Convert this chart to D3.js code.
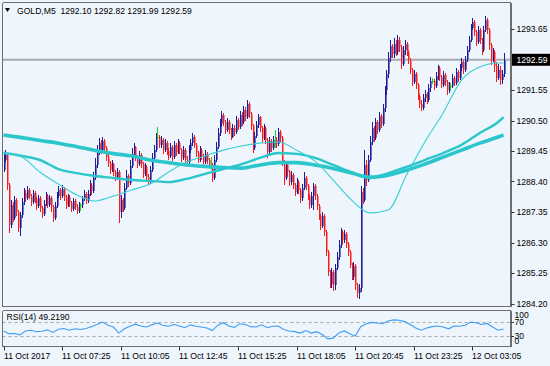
<!DOCTYPE html>
<html><head><meta charset="utf-8">
<script src="https://cdnjs.cloudflare.com/ajax/libs/d3/7.8.5/d3.min.js"></script>
<style>
html,body{margin:0;padding:0;background:#eef5fc;}
svg{display:block;font-family:"Liberation Sans",Arial,sans-serif;}
</style></head><body>
<svg id="c" width="550" height="366"></svg>
<script>
// ---------------- DATA ----------------
const symbol = "GOLD,M5";
const lastOHLC = ["1292.10", "1292.82", "1291.99", "1292.59"];
const firstOpen = 1288.79;
const closes = [
1289.14,1289.31,1288.28,1286.90,1287.59,1287.14,1287.76,1287.35,1286.80,1287.25,
1287.69,1288.00,1287.83,1288.11,1287.90,1287.69,1288.00,1287.80,1287.55,1287.83,
1287.49,1287.28,1287.62,1287.90,1287.59,1287.83,1287.52,1287.14,1287.55,1287.90,
1288.11,1287.90,1288.14,1287.87,1287.59,1287.87,1287.66,1287.45,1287.73,1287.52,
1287.38,1287.59,1287.59,1287.80,1287.97,1287.73,1287.97,1288.28,1288.07,1288.52,
1288.97,1289.41,1289.73,1289.48,1289.79,1289.55,1289.24,1289.04,1288.79,1289.00,
1288.72,1288.52,1288.72,1287.35,1287.76,1287.49,1288.18,1288.59,1288.35,1288.93,
1289.35,1289.59,1289.24,1289.00,1289.31,1289.00,1288.66,1288.90,1288.55,1288.38,
1288.79,1289.21,1289.48,1289.93,1289.93,1289.66,1289.83,1289.48,1289.73,1289.45,
1289.28,1289.59,1289.24,1289.66,1289.41,1289.73,1289.48,1289.21,1289.48,1289.14,
1289.07,1289.48,1289.73,1289.93,1289.66,1289.38,1289.14,1289.48,1289.28,1289.07,
1289.35,1289.14,1288.97,1288.97,1288.52,1289.14,1289.59,1290.07,1290.38,1290.69,
1290.45,1290.17,1290.45,1290.17,1289.93,1290.24,1290.10,1290.52,1290.27,1290.69,
1290.45,1290.86,1290.62,1291.07,1290.72,1290.31,1289.55,1289.97,1290.34,1290.62,
1290.24,1289.90,1290.24,1289.83,1289.41,1289.79,1289.55,1289.83,1289.83,1289.69,
1290.10,1289.90,1289.07,1288.52,1288.97,1288.72,1288.38,1288.62,1288.28,1288.04,
1288.38,1288.11,1287.83,1288.18,1288.52,1288.24,1287.90,1287.59,1287.90,1288.24,
1287.90,1287.55,1287.21,1286.87,1287.21,1286.66,1285.97,1285.28,1284.87,1285.28,
1284.84,1285.42,1285.80,1286.21,1286.66,1286.39,1286.59,1286.25,1285.97,1285.52,
1285.11,1285.49,1284.84,1284.56,1284.73,1288.04,1287.76,1288.97,1288.45,1289.14,
1289.76,1290.24,1289.90,1290.45,1290.17,1290.65,1290.38,1290.93,1291.55,1292.10,
1292.65,1293.06,1292.79,1293.13,1292.86,1293.27,1293.03,1292.44,1292.93,1293.13,
1292.86,1292.58,1292.24,1291.82,1292.10,1291.72,1291.34,1291.07,1290.93,1291.27,
1291.41,1291.21,1291.62,1291.86,1291.86,1291.69,1292.03,1292.31,1292.00,1291.72,
1292.07,1291.82,1291.55,1291.69,1291.69,1291.96,1291.79,1292.17,1291.96,1292.31,
1292.51,1292.24,1292.58,1292.93,1293.27,1293.68,1293.89,1293.54,1293.20,1293.61,
1293.27,1292.93,1293.61,1293.96,1293.61,1293.10,1292.58,1292.86,1292.38,1291.96,
1292.24,1291.89,1292.10,1292.59];
const highs = [
1289.41,1289.48,1289.38,1288.35,1287.76,1287.69,1287.90,1287.83,1287.42,1287.35,
1287.83,1288.18,1288.11,1288.24,1288.18,1287.97,1288.11,1288.07,1287.87,1287.94,
1287.90,1287.55,1287.76,1288.04,1287.97,1287.94,1287.90,1287.59,1287.69,1288.04,
1288.24,1288.18,1288.28,1288.21,1287.94,1287.97,1287.94,1287.73,1287.83,1287.80,
1287.62,1287.69,1287.66,1287.90,1288.11,1288.04,1288.11,1288.45,1288.35,1288.72,
1289.21,1289.66,1289.90,1289.83,1289.93,1289.86,1289.62,1289.35,1289.10,1289.14,
1289.04,1288.79,1288.86,1288.79,1287.94,1287.83,1288.35,1288.79,1288.66,1289.14,
1289.55,1289.73,1289.62,1289.31,1289.45,1289.38,1289.07,1289.04,1288.97,1288.66,
1288.93,1289.38,1289.66,1290.07,1290.27,1290.00,1289.97,1289.90,1289.86,1289.79,
1289.55,1289.73,1289.66,1289.79,1289.73,1289.86,1289.79,1289.55,1289.62,1289.55,
1289.28,1289.66,1289.86,1290.07,1290.00,1289.73,1289.45,1289.62,1289.55,1289.35,
1289.48,1289.41,1289.21,1289.24,1289.04,1289.31,1289.76,1290.24,1290.55,1290.83,
1290.76,1290.52,1290.59,1290.52,1290.24,1290.38,1290.34,1290.65,1290.59,1290.83,
1290.79,1291.00,1290.96,1291.21,1291.14,1290.79,1290.38,1290.10,1290.48,1290.72,
1290.65,1290.31,1290.38,1290.31,1289.90,1289.93,1289.86,1289.97,1290.17,1289.93,
1290.24,1290.17,1289.97,1289.14,1289.10,1289.04,1288.79,1288.76,1288.69,1288.35,
1288.52,1288.45,1288.18,1288.31,1288.72,1288.59,1288.31,1287.97,1288.04,1288.35,
1288.31,1287.97,1287.62,1287.28,1287.35,1287.28,1286.73,1286.04,1285.35,1285.42,
1285.35,1285.56,1285.97,1286.39,1286.80,1286.73,1286.73,1286.66,1286.32,1286.04,
1285.59,1285.63,1285.56,1284.91,1284.87,1288.24,1288.18,1289.48,1289.14,1289.31,
1289.97,1290.45,1290.31,1290.59,1290.52,1290.79,1290.72,1291.07,1291.69,1292.24,
1292.86,1293.27,1293.13,1293.34,1293.27,1293.44,1293.37,1293.10,1293.06,1293.27,
1293.20,1292.93,1292.65,1292.31,1292.24,1292.17,1291.79,1291.41,1291.21,1291.41,
1291.55,1291.48,1291.76,1292.00,1291.96,1291.93,1292.17,1292.41,1292.38,1292.07,
1292.20,1292.13,1291.89,1291.82,1291.79,1292.10,1292.03,1292.31,1292.24,1292.44,
1292.65,1292.58,1292.72,1293.06,1293.41,1293.82,1294.03,1293.96,1293.61,1293.75,
1293.68,1293.34,1293.75,1294.10,1294.03,1293.68,1293.17,1292.99,1292.93,1292.51,
1292.44,1292.38,1292.24,1292.82];
const lows = [
1288.72,1289.07,1288.11,1286.63,1286.80,1287.00,1287.07,1287.21,1286.66,1286.52,
1287.14,1287.59,1287.69,1287.76,1287.80,1287.55,1287.62,1287.66,1287.42,1287.49,
1287.35,1287.14,1287.21,1287.55,1287.49,1287.52,1287.35,1287.00,1287.07,1287.49,
1287.83,1287.76,1287.83,1287.73,1287.45,1287.52,1287.52,1287.35,1287.38,1287.42,
1287.28,1287.31,1287.38,1287.49,1287.73,1287.62,1287.66,1287.90,1287.94,1288.00,
1288.45,1288.86,1289.31,1289.35,1289.41,1289.41,1289.10,1288.90,1288.66,1288.72,
1288.59,1288.42,1288.45,1286.97,1287.14,1287.35,1287.42,1288.11,1288.21,1288.28,
1288.86,1289.24,1289.10,1288.86,1288.93,1288.86,1288.52,1288.59,1288.45,1288.28,
1288.31,1288.72,1289.14,1289.41,1289.86,1289.55,1289.55,1289.35,1289.41,1289.31,
1289.14,1289.21,1289.10,1289.17,1289.28,1289.35,1289.35,1289.07,1289.14,1289.04,
1288.97,1289.00,1289.38,1289.62,1289.55,1289.24,1289.04,1289.07,1289.14,1288.93,
1289.00,1289.00,1288.86,1288.79,1288.38,1288.45,1289.07,1289.52,1289.97,1290.27,
1290.31,1290.03,1290.10,1290.03,1289.83,1289.90,1289.97,1290.03,1290.17,1290.21,
1290.31,1290.38,1290.48,1290.55,1290.59,1290.17,1289.38,1289.48,1289.90,1290.24,
1290.10,1289.76,1289.83,1289.69,1289.21,1289.31,1289.41,1289.48,1289.55,1289.55,
1289.62,1289.76,1288.93,1288.28,1288.45,1288.59,1288.24,1288.28,1288.14,1287.90,
1287.97,1287.97,1287.66,1287.73,1288.11,1288.11,1287.76,1287.45,1287.49,1287.42,
1287.76,1287.42,1287.07,1286.73,1286.80,1286.52,1285.83,1285.14,1284.73,1284.73,
1284.63,1284.66,1285.35,1285.70,1286.11,1286.25,1286.28,1286.11,1285.83,1285.42,
1285.01,1285.01,1284.66,1284.39,1284.35,1284.59,1287.62,1287.69,1288.24,1288.38,
1289.07,1289.66,1289.76,1289.83,1290.03,1290.10,1290.24,1290.31,1290.79,1291.38,
1291.96,1292.51,1292.65,1292.65,1292.72,1292.75,1292.86,1292.27,1292.38,1292.75,
1292.72,1292.44,1292.10,1291.69,1291.76,1291.58,1291.21,1290.93,1290.83,1290.86,
1291.14,1291.07,1291.14,1291.48,1291.76,1291.55,1291.62,1291.89,1291.86,1291.62,
1291.65,1291.69,1291.38,1291.45,1291.51,1291.62,1291.69,1291.72,1291.82,1291.89,
1292.20,1292.10,1292.17,1292.51,1292.86,1293.20,1293.61,1293.41,1293.06,1293.13,
1293.13,1292.75,1292.86,1293.54,1293.48,1292.93,1292.41,1292.51,1292.17,1291.82,
1291.89,1291.72,1291.76,1291.99];

// moving averages read at sample bars
const maIdx  = [0,10,20,30,40,50,60,70,80,90,100,110,120,130,140,150,160,170,180,190,200,210,220,230,240,250,260,270,273];
const maSlow = [1290.00,1289.91,1289.81,1289.72,1289.60,1289.47,1289.36,1289.28,1289.14,1289.05,1288.97,1288.92,1288.88,1288.86,1288.97,1289.05,1289.05,1288.97,1288.85,1288.69,1288.55,1288.62,1288.79,1289.00,1289.24,1289.48,1289.72,1289.93,1290.00];
const maMid  = [1289.38,1289.28,1289.14,1288.83,1288.69,1288.59,1288.52,1288.45,1288.42,1288.38,1288.49,1288.66,1288.83,1289.00,1289.21,1289.38,1289.35,1289.21,1288.97,1288.72,1288.52,1288.69,1288.90,1289.14,1289.38,1289.66,1290.07,1290.45,1290.62];
const maFast = [1289.38,1289.24,1288.72,1288.31,1287.94,1287.73,1287.90,1288.11,1288.31,1288.72,1289.07,1289.28,1289.48,1289.62,1289.72,1289.76,1289.48,1289.10,1288.45,1287.76,1287.32,1287.42,1288.62,1289.76,1290.76,1291.89,1292.34,1292.48,1292.48];

// RSI(14) read every 3 bars
const rsiIdx = d3.range(0, 274, 3);
const rsiVal = [44,36,37,33,44,46,42,43,47,40,49,51,46,50,48,51,56,62,69,60,55,38,50,57,63,58,55,61,66,60,
57,62,58,53,61,57,55,52,45,60,67,58,54,64,62,56,55,61,53,57,58,48,44,42,38,45,38,42,34,22,
24,38,44,36,30,56,64,68,66,64,72,75,74,70,62,52,46,52,56,58,55,50,58,57,60,69,67,62,65,55,
46,49.219];
const rsiLabel = "RSI(14) 49.2190";
const rsiLevels = [70, 30];
const rsiTickLabels = ["100","70","30","0"];

const priceTicks = [1293.65,1291.55,1290.50,1289.45,1288.40,1287.35,1286.30,1285.25,1284.20];
const timeTickIdx = [0,32,64,96,128,160,192,224,256];
const timeTickLabels = ["11 Oct 2017","11 Oct 07:25","11 Oct 10:05","11 Oct 12:45","11 Oct 15:25","11 Oct 18:05","11 Oct 20:45","11 Oct 23:25","12 Oct 03:05"];

// ---------------- DRAW ----------------
const svg = d3.select('#c');
const bg = "#eef5fc", frame = "#6e6e6e";
const L = 2.5, R = 511, T = 2.5, B = 306.5, rT = 310.5, rB = 346.5;

const x = d3.scaleLinear().domain([0, 273]).range([3.5, 503.6]);
const y = d3.scaleLinear().domain([1284.20, 1293.65]).range([303.5, 29]);
const yr = d3.scaleLinear().domain([0, 100]).range([346.7, 310.9]);

svg.append('rect').attr('width', 550).attr('height', 366).attr('fill', bg);

const defs = svg.append('defs');
defs.append('clipPath').attr('id', 'mainclip').append('rect')
  .attr('x', L + 0.5).attr('y', T + 0.5).attr('width', R - L - 1.5).attr('height', B - T - 1);
defs.append('clipPath').attr('id', 'rsiclip').append('rect')
  .attr('x', L + 0.5).attr('y', rT + 0.5).attr('width', R - L - 1.5).attr('height', rB - rT - 1);

// current price line
const lastClose = closes[closes.length - 1];
svg.append('line').attr('x1', L).attr('x2', R).attr('y1', y(lastClose)).attr('y2', y(lastClose))
  .attr('stroke', '#a9acb0').attr('stroke-width', 2);

// candles
const bars = closes.map((c, i) => {
  const o = i === 0 ? firstOpen : closes[i - 1];
  return { i, o, c, h: Math.max(highs[i], o, c), l: Math.min(lows[i], o, c) };
});
const main = svg.append('g').attr('clip-path', 'url(#mainclip)');
const cg = main.append('g').attr('shape-rendering', 'crispEdges');
const col = d => d.c > d.o ? ['#1c1c96', '#7373c4'] : d.c < d.o ? ['#ff1a1a', '#f28c8c'] : ['#18d818', '#18d818'];
cg.selectAll('rect.body').data(bars).enter().append('rect')
  .attr('x', d => Math.round(x(d.i)))
  .attr('y', d => y(Math.max(d.o, d.c)))
  .attr('width', 2)
  .attr('height', d => Math.max(1, Math.abs(y(d.o) - y(d.c))))
  .attr('fill', d => col(d)[1]);
cg.selectAll('line.wick').data(bars).enter().append('line')
  .attr('x1', d => Math.round(x(d.i)) + 0.5).attr('x2', d => Math.round(x(d.i)) + 0.5)
  .attr('y1', d => y(d.h)).attr('y2', d => y(d.l))
  .attr('stroke', d => col(d)[0]).attr('stroke-width', 1);

// moving averages
const maLine = vals => d3.line().x((d, k) => x(maIdx[k])).y(d => y(d)).curve(d3.curveMonotoneX)(vals);
main.append('path').attr('d', maLine(maSlow)).attr('fill', 'none').attr('stroke', '#2ac6cc').attr('stroke-width', 3.6);
main.append('path').attr('d', maLine(maMid)).attr('fill', 'none').attr('stroke', '#2ac6cc').attr('stroke-width', 2.4);
main.append('path').attr('d', maLine(maFast)).attr('fill', 'none').attr('stroke', '#38cfd6').attr('stroke-width', 1.1);

// frames
const frameG = svg.append('g').attr('stroke', frame).attr('fill', 'none').attr('shape-rendering', 'crispEdges');
[[T, B], [rT, rB]].forEach(([t, b]) => {
  frameG.append('line').attr('x1', L).attr('x2', R).attr('y1', t).attr('y2', t);
  frameG.append('line').attr('x1', L).attr('x2', R).attr('y1', b).attr('y2', b);
  frameG.append('line').attr('x1', L).attr('x2', L).attr('y1', t).attr('y2', b);
  frameG.append('line').attr('x1', R).attr('x2', R).attr('y1', t).attr('y2', b + 0.5).attr('stroke-width', 2);
});

// price axis
const fs = '8.6px';
const pa = svg.append('g');
priceTicks.forEach(p => {
  pa.append('line').attr('x1', R).attr('x2', R + 3.5).attr('y1', Math.round(y(p)) + 0.5).attr('y2', Math.round(y(p)) + 0.5)
    .attr('stroke', '#333');
  pa.append('text').attr('x', 516.5).attr('y', y(p) + 3.2).attr('font-size', fs).attr('fill', '#000').text(p.toFixed(2));
});
// current price box
svg.append('rect').attr('x', 512).attr('y', y(lastClose) - 6).attr('width', 38).attr('height', 12).attr('fill', '#000');
svg.append('text').attr('x', 516.5).attr('y', y(lastClose) + 3.2).attr('font-size', fs).attr('fill', '#fff').text(lastClose.toFixed(2));

// header
svg.append('path').attr('d', 'M5,8 L10,8 L7.5,12 Z').attr('fill', '#000');
svg.append('text').attr('x', 17).attr('y', 13.5).attr('font-size', fs).attr('fill', '#000')
  .attr('xml:space', 'preserve').text(symbol + '  ' + lastOHLC.join(' '));

// RSI panel
const rg = svg.append('g').attr('clip-path', 'url(#rsiclip)');
rsiLevels.forEach(v => {
  rg.append('line').attr('x1', L).attr('x2', R).attr('y1', Math.round(yr(v)) + 0.5).attr('y2', Math.round(yr(v)) + 0.5)
    .attr('stroke', '#a8a8a8').attr('stroke-dasharray', '3,3');
});
rg.append('path').attr('d', d3.line().x((d, k) => x(rsiIdx[k])).y(d => yr(d))(rsiVal))
  .attr('fill', 'none').attr('stroke', '#3d9df5').attr('stroke-width', 1.1);
svg.append('text').attr('x', 6.5).attr('y', 319.5).attr('font-size', fs).attr('fill', '#000').text(rsiLabel);
const rsiLabY = [317.5, 325, 339, 343.5];
rsiTickLabels.forEach((t, k) => {
  svg.append('text').attr('x', 514.5).attr('y', rsiLabY[k]).attr('font-size', fs).attr('fill', '#000').text(t);
});
[70, 30].forEach(v => svg.append('line').attr('x1', R).attr('x2', R + 3).attr('y1', Math.round(yr(v)) + 0.5).attr('y2', Math.round(yr(v)) + 0.5).attr('stroke', '#333'));

// time axis
timeTickIdx.forEach((ti, k) => {
  const tx = Math.round(x(ti)) + 0.5;
  svg.append('line').attr('x1', tx).attr('x2', tx).attr('y1', rB).attr('y2', rB + 4).attr('stroke', '#333');
  svg.append('text').attr('x', tx - 0.5).attr('y', 358.5).attr('font-size', fs).attr('fill', '#000').text(timeTickLabels[k]);
});
</script>
</body></html>
